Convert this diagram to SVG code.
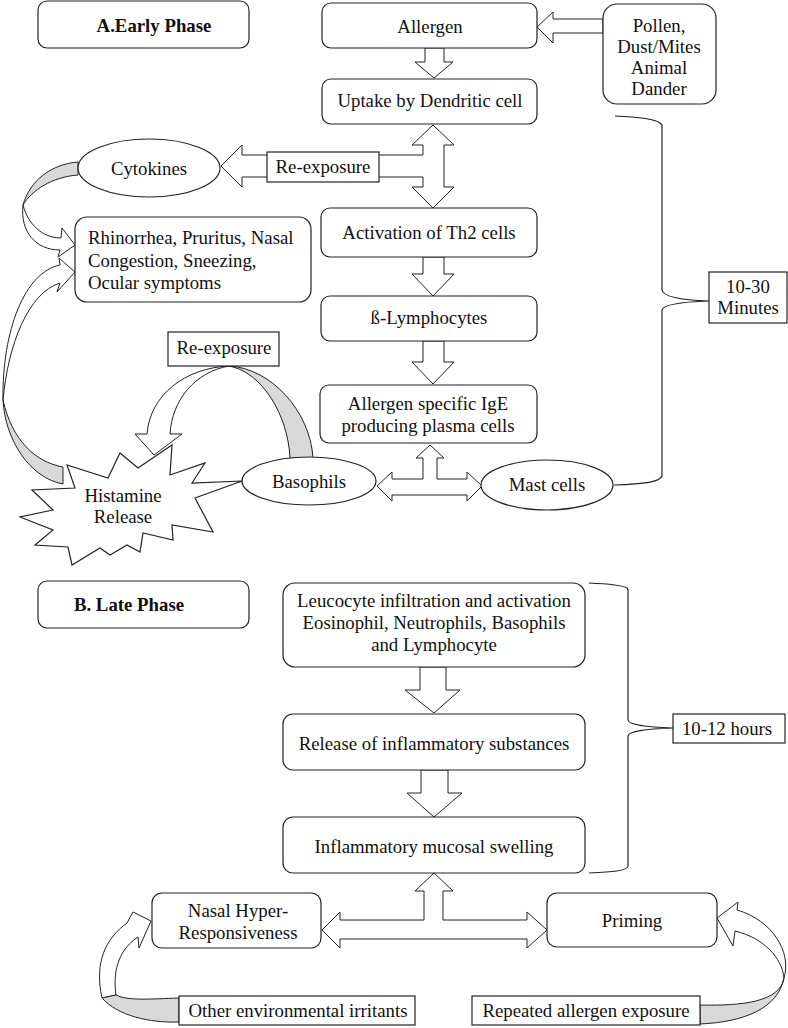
<svg xmlns="http://www.w3.org/2000/svg" width="788" height="1028" viewBox="0 0 788 1028">
<style>
.b{fill:#fff;stroke:#222;stroke-width:1.2}
.a{fill:#fff;stroke:#222;stroke-width:1}
.g{fill:#d9d9d9;stroke:#222;stroke-width:1}
.br{fill:none;stroke:#222;stroke-width:1.2}
text{font-family:"Liberation Serif","Times New Roman",serif;font-size:18.8px;fill:#111;text-anchor:middle}
.l{text-anchor:start}
.t{font-weight:bold}
</style>
<rect width="788" height="1028" fill="#fff"/>

<g id="connectors">
  <polygon class="a" points="603,19 553,19 553,12 537,27 553,43 553,33 603,33"/>
  <polygon class="a" points="425,48 444,48 444,62 453,62 434,78 415,62 425,62"/>
  <polygon class="a" points="433,125 454,145 444,145 444,187 454,187 433,208 412,187 423,187 423,177 242,177 242,187 221,166 242,145 242,155 423,155 423,145 412,145"/>
  <polygon class="a" points="423,257 444,257 444,274 454,274 433,296 412,274 423,274"/>
  <polygon class="a" points="423,341 444,341 444,362 454,362 433,384 412,362 423,362"/>
  <polygon class="a" points="430,445 444,458 437,458 437,479 467,479 467,472 482,486 467,501 467,495 392,495 392,501 377,486 392,472 392,479 423,479 423,458 416,458"/>
  <path class="g" d="M78,162 C52,164 30,180 23,205 C32,190 52,177 78,175 Z"/>
  <path class="a" d="M23,205 C20,232 36,250 60,250 L58,257 L75,245 L62,228 L61,238 C42,238 28,224 23,205 Z"/>
  <path class="a" d="M60,265 C25,272 2,330 3,400 C8,345 28,293 60,283 L57,292 L75,272 L59,258 Z"/>
  <path class="g" d="M3,400 C5,440 30,478 63,484 L63,467 C35,462 12,440 3,400 Z"/>
  <path class="a" d="M229,366 C185,368 150,395 147,434 L135,434 L154,455 L182,434 L170,434 C172,400 195,372 229,366 Z"/>
  <path class="g" d="M229,366 C270,368 310,410 313,458 L290,458 C288,415 262,372 229,366 Z"/>
  <path class="br" d="M615,116 C640,117 655,119 660,123 L662,125 L662,290 C663,296 680,300 709,301 C680,302 663,305 662,310 L662,476 C660,482 645,484 614,485"/>
  <polygon class="a" points="420,667 446,667 446,690 460,690 434,713 405,690 420,690"/>
  <polygon class="a" points="421,770 448,770 448,793 462,793 434,817 407,793 421,793"/>
  <path class="br" d="M589,583 C612,584 622,585 627,588 L628,590 L628,720 C629,725 645,727 673,728 C645,729 629,731 628,736 L628,866 C627,871 612,872 589,873"/>
  <polygon class="a" points="434,873 453,891 443,891 443,920 527,920 527,912 547,930 527,948 527,939 340,939 340,948 322,930 340,912 340,920 424,920 424,891 415,891"/>
  <path class="a" d="M102,998 C94,962 106,938 127,923 L133,912 L151,921 L139,948 L138,937 C121,948 112,968 116,995 Z"/>
  <path class="g" d="M102,998 C118,1016 150,1023 179,1022 L179,998 C150,999 128,1001 116,995 Z"/>
  <path class="a" d="M784,978 C792,952 772,920 737,910 L738,902 L717,918 L733,946 L735,931 C764,938 782,958 784,978 Z"/>
  <path class="g" d="M784,978 C780,1002 742,1006 700,1005 L700,1024 C745,1022 778,1008 784,978 Z"/>
</g>

<g id="title-a"><rect class="b" x="38" y="1" width="211" height="47" rx="9"/><text class="t" x="154" y="32">A.Early Phase</text></g>
<g id="allergen"><rect class="b" x="322" y="3" width="215" height="45" rx="9"/><text x="430" y="33">Allergen</text></g>
<g id="pollen"><rect class="b" x="603" y="4" width="113" height="100" rx="14"/>
  <text x="659" y="32">Pollen,</text><text x="659" y="53">Dust/Mites</text><text x="659" y="74">Animal</text><text x="659" y="95">Dander</text></g>
<g id="uptake"><rect class="b" x="322" y="79" width="215" height="45" rx="9"/><text x="430" y="107">Uptake by Dendritic cell</text></g>
<g id="reexposure1"><rect class="b" x="267" y="152" width="112" height="30"/><text x="323" y="173">Re-exposure</text></g>
<g id="cytokines"><ellipse class="b" cx="149" cy="168" rx="71" ry="29"/><text x="149" y="175">Cytokines</text></g>
<g id="symptoms"><rect class="b" x="75" y="217" width="236" height="85" rx="12"/>
  <text class="l" x="88" y="244">Rhinorrhea, Pruritus, Nasal</text><text class="l" x="88" y="267">Congestion, Sneezing,</text><text class="l" x="88" y="289">Ocular symptoms</text></g>
<g id="th2"><rect class="b" x="321" y="208" width="216" height="49" rx="9"/><text x="429" y="239">Activation of Th2 cells</text></g>
<g id="blymph"><rect class="b" x="321" y="296" width="216" height="45" rx="9"/><text x="429" y="324">ß-Lymphocytes</text></g>
<g id="reexposure2"><rect class="b" x="168" y="332" width="111" height="34"/><text x="224" y="354">Re-exposure</text></g>
<g id="ige"><rect class="b" x="320" y="385" width="217" height="58" rx="9"/>
  <text x="428" y="410">Allergen specific IgE</text><text x="428" y="432">producing plasma cells</text></g>
<g id="histamine"><polygon class="b" points="67,465 108,478 120,453 138,468 172,445 170,475 205,463 192,483 242,481 195,498 213,532 172,525 173,540 143,533 140,552 127,545 110,555 100,548 72,565 68,547 35,545 53,530 20,517 53,510 32,490 75,488"/>
  <text x="123" y="502">Histamine</text><text x="123" y="523">Release</text></g>
<g id="basophils"><ellipse class="b" cx="309" cy="481" rx="67" ry="24"/><text x="309" y="488">Basophils</text></g>
<g id="mast"><ellipse class="b" cx="547" cy="485" rx="66" ry="25"/><text x="547" y="491">Mast cells</text></g>
<g id="time1"><rect class="b" x="709" y="272" width="78" height="51"/><text x="748" y="293">10-30</text><text x="748" y="314">Minutes</text></g>

<g id="title-b"><rect class="b" x="38" y="581" width="211" height="47" rx="9"/><text class="t" x="129" y="611">B. Late Phase</text></g>
<g id="leucocyte"><rect class="b" x="283" y="583" width="302" height="84" rx="12"/>
  <text x="434" y="607">Leucocyte infiltration and activation</text><text x="434" y="629">Eosinophil, Neutrophils, Basophils</text><text x="434" y="651">and Lymphocyte</text></g>
<g id="release"><rect class="b" x="283" y="714" width="302" height="56" rx="10"/><text x="434" y="750">Release of inflammatory substances</text></g>
<g id="swelling"><rect class="b" x="283" y="817" width="302" height="56" rx="10"/><text x="434" y="853">Inflammatory mucosal swelling</text></g>
<g id="time2"><rect class="b" x="673" y="714" width="112" height="29"/><text x="727" y="735">10-12 hours</text></g>
<g id="nasal"><rect class="b" x="152" y="893" width="169" height="55" rx="10"/><text x="238" y="917">Nasal Hyper-</text><text x="238" y="939">Responsiveness</text></g>
<g id="priming"><rect class="b" x="547" y="893" width="170" height="54" rx="10"/><text x="632" y="927">Priming</text></g>
<g id="other"><rect class="b" x="179" y="996" width="236" height="29"/><text x="298" y="1017">Other environmental irritants</text></g>
<g id="repeated"><rect class="b" x="472" y="996" width="228" height="29"/><text x="586" y="1017">Repeated allergen exposure</text></g>
</svg>
